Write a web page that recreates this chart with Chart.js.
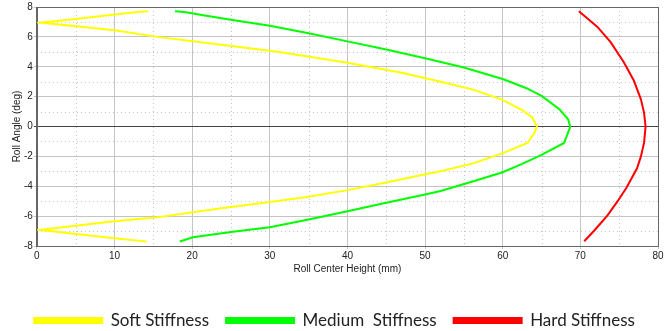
<!DOCTYPE html>
<html>
<head>
<meta charset="utf-8">
<script src="https://cdn.jsdelivr.net/npm/chart.js@4"></script>
<style>
body{margin:0;background:#fff;}
#wrap{width:670px;height:331px;}
</style>
</head>
<body>
<div id="wrap"><canvas id="rollChart"></canvas></div>
<script>

// roll center height (mm) and roll angle (deg) for each stiffness

let softHeight = [14.3,13,10,5,0.5,10,15.5,24,31,40,47,52,56.3,59.9,62.5,63.8,64.4,64.1,63.2,60,56.3,52,50,45,40,35,30,24,15.2,10,5,0.5,5,10,13,14.1];
let softAngle = [7.72,7.67,7.5,7.2,6.96,6.45,6.0,5.45,5.0,4.27,3.6,3.0,2.45,1.8,1.1,0.6,0,-0.4,-1.1,-1.78,-2.45,-3.0,-3.2,-3.75,-4.26,-4.7,-5.05,-5.45,-6.1,-6.35,-6.65,-6.92,-7.2,-7.48,-7.64,-7.7];

let mediumHeight = [17.8,19,22,25,30,35,40,45,50,55,60,63,65,67.3,68.4,68.7,68.5,67.9,65,62.5,60,56,52,50,45,40,35,30,25,20.1,18.4];
let mediumAngle = [7.72,7.66,7.4,7.15,6.75,6.24,5.7,5.15,4.57,3.95,3.18,2.58,2.05,1.15,0.5,0,-0.3,-1.1,-1.9,-2.5,-3.06,-3.7,-4.32,-4.55,-5.1,-5.68,-6.22,-6.74,-7.07,-7.41,-7.7];

let hardHeight = [69.8,71,72.2,73.9,75.6,76.9,77.8,78.2,78.4,78.2,77.8,77.3,75.9,74.8,73.5,71.8,70.5];
let hardAngle = [7.72,7.2,6.67,5.65,4.3,3.06,1.82,0.93,0,-1.1,-2.0,-2.8,-4.14,-5.0,-5.95,-6.96,-7.68];

let seriesNames = ["Soft Stiffness","Medium  Stiffness","Hard Stiffness"];
let seriesColors = ["#ffff00","#00ff00","#ff0000"];

// turn two arrays into points

function toPoints(xs, ys){
return xs.map((x,i) => ({x: x, y: ys[i]}));
}

// dotted minor grid lines and frame

let minorGrid = {
id: "minorGrid",
beforeDatasetsDraw(chart){
let ctx = chart.ctx;
let a = chart.chartArea;
let xs = chart.scales.x;
let ys = chart.scales.y;
ctx.save();
ctx.strokeStyle = "#c4c4c4";
ctx.lineWidth = 1;
ctx.setLineDash([1,3]);
xs.ticks.forEach(t => {
if(t.value % 10 !== 0){
let px = Math.round(xs.getPixelForValue(t.value)) + 0.5;
ctx.beginPath();
ctx.moveTo(px, a.top);
ctx.lineTo(px, a.bottom);
ctx.stroke();
}
});
ys.ticks.forEach(t => {
if(t.value % 2 !== 0){
let py = Math.round(ys.getPixelForValue(t.value)) + 0.5;
ctx.beginPath();
ctx.moveTo(a.left, py);
ctx.lineTo(a.right, py);
ctx.stroke();
}
});
ctx.setLineDash([]);
ctx.strokeStyle = "#666";
ctx.strokeRect(Math.round(a.left)+0.5, Math.round(a.top)+0.5, Math.round(a.right-a.left), Math.round(a.bottom-a.top));
ctx.restore();
}
};

let ctx = document.getElementById("rollChart").getContext("2d");

let chart = new Chart(ctx,{

type: "scatter",

data: {

datasets: [
{
label: seriesNames[0],
data: toPoints(softHeight, softAngle),
borderColor: seriesColors[0],
backgroundColor: seriesColors[0]
},
{
label: seriesNames[1],
data: toPoints(mediumHeight, mediumAngle),
borderColor: seriesColors[1],
backgroundColor: seriesColors[1]
},
{
label: seriesNames[2],
data: toPoints(hardHeight, hardAngle),
borderColor: seriesColors[2],
backgroundColor: seriesColors[2]
}
]

},

options: {

responsive: true,
maintainAspectRatio: false,
animation: false,

layout: {
padding: {top: 6, right: 12, left: 11, bottom: -8}
},

elements: {
line: {borderWidth: 2, tension: 0},
point: {radius: 0}
},

datasets: {
scatter: {showLine: true}
},

scales: {

x: {
min: 0,
max: 80,
ticks: {
stepSize: 5,
autoSkip: false,
maxRotation: 0,
padding: 1,
color: "#222",
font: {family: "Liberation Sans", size: 10},
callback: v => v % 10 === 0 ? v : ""
},
grid: {
color: c => c.tick && c.tick.value % 10 === 0 ? "#c4c4c4" : "rgba(0,0,0,0)",
tickLength: 3
},
border: {color: "#666"},
title: {
display: true,
text: "Roll Center Height (mm)",
color: "#222",
font: {family: "Liberation Sans", size: 10},
padding: {top: 0, bottom: 20}
}
},

y: {
min: -8,
max: 8,
ticks: {
stepSize: 1,
autoSkip: false,
padding: 1,
color: "#222",
font: {family: "Liberation Sans", size: 10},
callback: v => v % 2 === 0 ? v : ""
},
grid: {
color: c => {
if(!c.tick) return "#c4c4c4";
if(c.tick.value === 0) return "#444";
return c.tick.value % 2 === 0 ? "#c4c4c4" : "rgba(0,0,0,0)";
},
tickLength: 3
},
border: {color: "#666"},
title: {
display: true,
text: "Roll Angle (deg)",
color: "#222",
font: {family: "Liberation Sans", size: 10},
padding: {top: 0, bottom: 0}
}
}

},

plugins: {

legend: {
position: "bottom",
labels: {
boxWidth: 68,
boxHeight: 5,
padding: 17,
color: "#222",
font: {family: "Lato", size: 17}
}
},

tooltip: {enabled: false}

}

},

plugins: [minorGrid]

});

</script>
</body>
</html>
